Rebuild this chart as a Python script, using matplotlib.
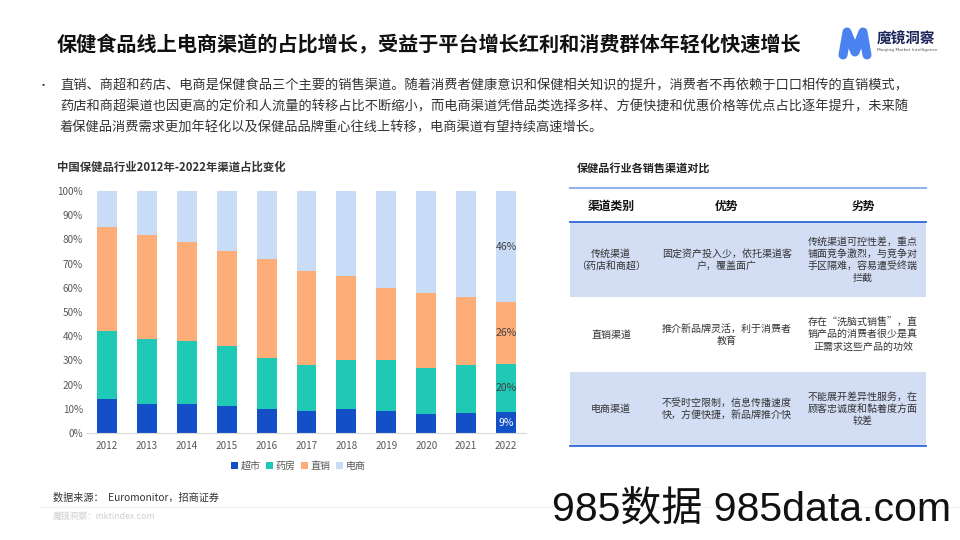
import numpy as np
import matplotlib.pyplot as plt
from matplotlib.patches import Rectangle

plt.rcParams['font.family'] = ['Noto Sans CJK SC', 'DejaVu Sans']

# ---- data ----
years = ['2012', '2013', '2014', '2015', '2016', '2017', '2018', '2019', '2020', '2021', '2022']
supermarket = [14, 12, 12, 11, 10, 9, 10, 9.2, 8, 8.2, 8.6]
pharmacy = [28, 27, 26, 25, 21, 19, 20, 20.9, 19, 20.1, 19.8]
direct = [43, 43, 41, 39, 41, 39, 35, 29.9, 31, 27.7, 25.6]
ecommerce = [15, 18, 21, 25, 28, 33, 35, 40, 42, 44, 46]
series_names = ['超市', '药房', '直销', '电商']
series_colors = ['#1350c8', '#20c9b5', '#fdad78', '#c8dbf7']

yticks = [0, 10, 20, 30, 40, 50, 60, 70, 80, 90, 100]

table_header = ['渠道类别', '优势', '劣势']
channels = ['传统渠道\n（药店和商超）', '直销渠道', '电商渠道']
pros = ['固定资产投入少，依托渠道客\n户，覆盖面广',
        '推介新品牌灵活，利于消费者\n教育',
        '不受时空限制，信息传播速度\n快，方便快捷，新品牌推介快']
cons = ['传统渠道可控性差，重点\n铺面竞争激烈，与竞争对\n手区隔难，容易遭受终端\n拦截',
        '存在“洗脑式销售”，直\n销产品的消费者很少是真\n正需求这些产品的功效',
        '不能展开差异性服务，在\n顾客忠诚度和黏着度方面\n较差']

title = '保健食品线上电商渠道的占比增长，受益于平台增长红利和消费群体年轻化快速增长'
body = ['直销、商超和药店、电商是保健食品三个主要的销售渠道。随着消费者健康意识和保健相关知识的提升，消费者不再依赖于口口相传的直销模式，',
        '药店和商超渠道也因更高的定价和人流量的转移占比不断缩小，而电商渠道凭借品类选择多样、方便快捷和优惠价格等优点占比逐年提升，未来随',
        '着保健品消费需求更加年轻化以及保健品品牌重心往线上转移，电商渠道有望持续高速增长。']

W, H = 960, 540
fig = plt.figure(figsize=(W / 100, H / 100), dpi=100)

# background overlay axes in pixel coordinates
bg = fig.add_axes([0, 0, 1, 1])
bg.set_xlim(0, W)
bg.set_ylim(H, 0)
bg.axis('off')

# header
bg.text(57, 45, title, fontsize=14.5, fontweight='bold', color='#111111', va='center')
bg.plot([843, 847, 855, 863, 867], [55, 32, 52, 32, 55], color='#4a82f0', lw=6.5,
        solid_capstyle='round', solid_joinstyle='round')
bg.text(877, 39, '魔镜洞察', fontsize=10.5, fontweight='bold', color='#1b2559', va='center')
bg.text(877, 50, 'Moojing Market Intelligence', fontsize=3.2, color='#555555', va='center',
        family='DejaVu Sans')

bg.text(38, 86, '•', fontsize=8, color='#333333', va='center')
for i, line in enumerate(body):
    bg.text(60, 86 + i * 21, line, fontsize=9.5, color='#333333', va='center')

bg.text(57, 167, '中国保健品行业2012年-2022年渠道占比变化', fontsize=8.2, fontweight='bold',
        color='#333333', va='center')

# ---- stacked bar chart ----
ax = fig.add_axes([87 / W, 1 - 433 / H, 439 / W, (433 - 191) / H])
x = np.arange(len(years))
bottom = np.zeros(len(years))
for vals, name, col in zip([supermarket, pharmacy, direct, ecommerce], series_names, series_colors):
    ax.bar(x, vals, width=0.5, bottom=bottom, color=col, label=name)
    # labels on the last bar only
    v = vals[-1]
    ax.text(x[-1], bottom[-1] + v / 2, f'{v:.0f}%', ha='center', va='center', fontsize=7.5,
            color='white' if name == '超市' else '#404040')
    bottom += np.array(vals)

ax.set_xlim(-0.5, len(years) - 0.5)
ax.set_ylim(0, 100)
ax.set_yticks(yticks)
ax.set_yticklabels([f'{t}%' for t in yticks])
ax.set_xticks(x)
ax.set_xticklabels(years)
ax.tick_params(length=0, labelsize=7.2, labelcolor='#595959')
ax.tick_params(axis='y', pad=3)
ax.tick_params(axis='x', pad=6)
for s in ['top', 'right', 'left']:
    ax.spines[s].set_visible(False)
ax.spines['bottom'].set_color('#d9d9d9')

leg = fig.legend(loc='center', bbox_to_anchor=(298 / W, 1 - 466 / H), ncol=4, frameon=False,
                 fontsize=7.2, handlelength=0.7, handleheight=0.7, handletextpad=0.3,
                 columnspacing=0.5, labelcolor='#595959')

# ---- comparison table ----
bg.text(577, 168, '保健品行业各销售渠道对比', fontsize=8, fontweight='bold', color='#222222', va='center')
tx0, tx1 = 570, 926
row_edges = [222, 297, 372, 446]
shade = '#d3def5'
for i in range(3):
    if i != 1:
        bg.add_patch(Rectangle((tx0, row_edges[i]), tx1 - tx0, row_edges[i + 1] - row_edges[i],
                               facecolor=shade, edgecolor='none'))
bg.plot([tx0, tx1], [188, 188], color='#8fb3ea', lw=1.5)
bg.plot([tx0, tx1], [222, 222], color='#2e6ad6', lw=1.3)
bg.plot([tx0, tx1], [446, 446], color='#2e6ad6', lw=1.3)

col_x = [611, 727, 863]
for cx, h in zip(col_x, table_header):
    bg.text(cx, 206, h, fontsize=8.5, fontweight='bold', color='#111111', ha='center', va='center')
for i in range(3):
    cy = (row_edges[i] + row_edges[i + 1]) / 2
    for cx, txt in zip(col_x, [channels[i], pros[i], cons[i]]):
        bg.text(cx, cy, txt, fontsize=7.2, color='#333333', ha='center', va='center',
                linespacing=1.25)

# ---- footer ----
bg.text(53, 498, '数据来源：  Euromonitor，招商证券', fontsize=7.3, color='#333333', va='center')
bg.plot([40, 960], [507, 507], color='#f2f2f2', lw=1)
bg.text(53, 517, '魔镜洞察：mktindex.com', fontsize=6.3, color='#d0d0d0', va='center')
bg.text(552, 510, '985数据 985data.com', fontsize=29.5, color='#111111', va='center',
        family=['Liberation Sans', 'Noto Sans CJK SC'])

fig.savefig('out.png', dpi=100)
